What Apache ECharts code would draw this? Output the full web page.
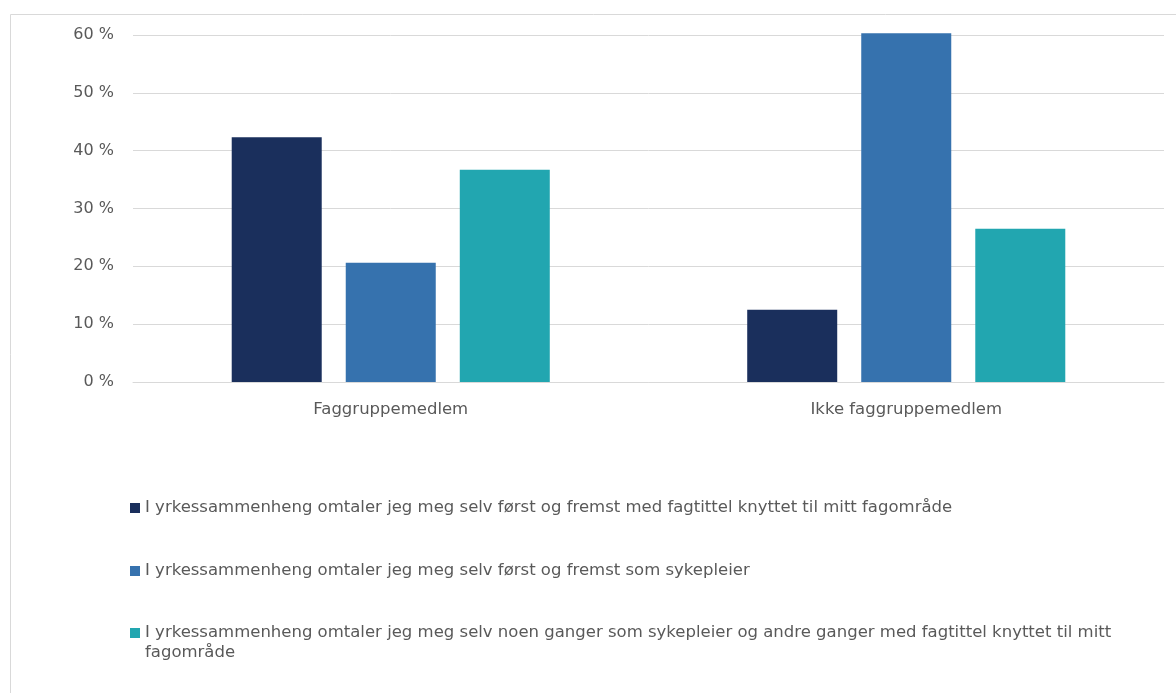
<!DOCTYPE html>
<html><head><meta charset="utf-8">
<script src="https://cdn.jsdelivr.net/npm/echarts@6/dist/echarts.min.js"></script>
<style>html,body{margin:0;padding:0;background:#fff}#c{width:1176px;height:693px}</style>
</head><body><div id="c"></div>
<script>
const categories = ['Faggruppemedlem', 'Ikke faggruppemedlem'];
const seriesNames = [
  'I yrkessammenheng omtaler jeg meg selv først og fremst med fagtittel knyttet til mitt fagområde',
  'I yrkessammenheng omtaler jeg meg selv først og fremst som sykepleier',
  'I yrkessammenheng omtaler jeg meg selv noen ganger som sykepleier og andre ganger med fagtittel knyttet til mitt fagområde'
];
const fagtittel = [42.3, 12.5];
const sykepleier = [20.6, 60.3];
const begge = [36.7, 26.5];
const yTicks = [0, 10, 20, 30, 40, 50, 60];
const colors = ['#1a2f5c', '#3672ae', '#22a6b0'];

const chart = echarts.init(document.getElementById('c'));
const txt = '#595959';
const font = 'DejaVu Sans';
const legendBase = {orient:'vertical', left:125, height:300, itemWidth:10, itemHeight:10, itemGap:43,
  icon:'rect',
  textStyle:{color:txt, fontFamily:font, fontSize:16.5, lineHeight:20, width:1010, overflow:'break'}};
chart.setOption({
  animation: false,
  graphic: [{type:'rect', shape:{x:10.5,y:14.5,width:1200,height:700}, style:{fill:'none', stroke:'#d9d9d9', lineWidth:1}, silent:true}],
  grid: {left:133, right:12, top:35, height:347, containLabel:false},
  xAxis: {type:'category', data:categories,
    axisLine:{show:true, lineStyle:{color:'#d9d9d9'}}, axisTick:{show:false},
    axisLabel:{color:txt, fontFamily:font, fontSize:16.5, margin:19}},
  yAxis: {type:'value', min:yTicks[0], max:yTicks[yTicks.length-1], interval:10,
    axisLine:{show:false}, axisTick:{show:false},
    splitLine:{lineStyle:{color:'#d9d9d9'}},
    axisLabel:{color:txt, fontFamily:font, fontSize:16, margin:19, formatter: v => v + ' %'}},
  legend: [
    Object.assign({}, legendBase, {top:493, data:[seriesNames[0], seriesNames[1]]}),
    Object.assign({}, legendBase, {top:598, data:[seriesNames[2]], formatter: n => '\n' + n})
  ],
  series: [
    {name:seriesNames[0], type:'bar', data:fagtittel, clip:false, itemStyle:{color:colors[0]}, barGap:'26.7%', barCategoryGap:'38.3%'},
    {name:seriesNames[1], type:'bar', data:sykepleier, clip:false, itemStyle:{color:colors[1]}},
    {name:seriesNames[2], type:'bar', data:begge, clip:false, itemStyle:{color:colors[2]}}
  ]
});
</script></body></html>
